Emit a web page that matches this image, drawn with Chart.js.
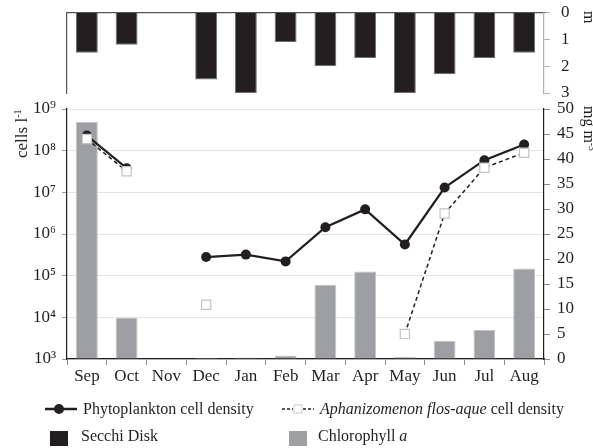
<!DOCTYPE html>
<html>
<head>
<meta charset="utf-8">
<script src="https://cdn.jsdelivr.net/npm/chart.js@4.4.1/dist/chart.umd.min.js"></script>
<style>
  html, body { margin: 0; padding: 0; background: #fff; }
  #wrap { position: relative; width: 593px; height: 448px; overflow: hidden;
          font-family: 'Liberation Serif', 'Times New Roman', serif; color: #231f20; }
  canvas { position: absolute; left: 0; top: 0; }
  .lbl { position: absolute; white-space: nowrap; font-size: 16px; line-height: 1; }
  .rot-up { transform-origin: 0 0; transform: rotate(-90deg); }
  .rot-down { transform-origin: 0 0; transform: rotate(90deg); }
  sup { font-size: 0.6em; vertical-align: 0.55em; line-height: 0; }
  .sym { position: absolute; }
</style>
</head>
<body>
<div id="wrap">
  <canvas id="main" width="593" height="448"></canvas>
  <canvas id="secchi" width="593" height="448"></canvas>

  <!-- axis titles -->
  <div class="lbl rot-up" style="left:13px; top:158px; font-size:17px;">cells l<sup>-1</sup></div>
  <div class="lbl rot-down" style="left:597px; top:106px; font-size:16px;">mg m<sup>-3</sup></div>
  <div class="lbl rot-down" style="left:597px; top:11px; font-size:16px;">m</div>

  <!-- legend -->
  <svg class="sym" style="left:44px; top:402px;" width="34" height="14">
    <line x1="1" y1="7" x2="33" y2="7" stroke="#231f20" stroke-width="2.5"/>
    <circle cx="15" cy="7" r="5" fill="#231f20"/>
  </svg>
  <div class="lbl" style="left:83px; top:401px;">Phytoplankton cell density</div>

  <svg class="sym" style="left:281px; top:402px;" width="34" height="14">
    <line x1="1" y1="7" x2="12" y2="7" stroke="#231f20" stroke-width="1.5" stroke-dasharray="3,2"/>
    <line x1="22" y1="7" x2="33" y2="7" stroke="#231f20" stroke-width="1.5" stroke-dasharray="3,2"/>
    <rect x="13" y="3" width="8" height="8" fill="#fff" stroke="#c9c9c9" stroke-width="1"/>
  </svg>
  <div class="lbl" style="left:320px; top:401px;"><i>Aphanizomenon flos-aque</i> cell density</div>

  <div class="sym" style="left:50px; top:431px; width:18px; height:15px; background:#231f20;"></div>
  <div class="lbl" style="left:81px; top:428px;">Secchi Disk</div>

  <div class="sym" style="left:289px; top:431px; width:18px; height:15px; background:#9d9fa2;"></div>
  <div class="lbl" style="left:318px; top:428px;">Chlorophyll <i>a</i></div>
</div>

<script>
// Monthly sampling, September to August
const months = ['Sep', 'Oct', 'Nov', 'Dec', 'Jan', 'Feb', 'Mar', 'Apr', 'May', 'Jun', 'Jul', 'Aug'];

// Secchi disk transparency (m)
const secchiDepth = [1.5, 1.2, null, 2.5, 3.0, 1.1, 2.0, 1.7, 3.0, 2.3, 1.7, 1.5];

// Chlorophyll a (mg m-3)
const chlorophyllA = [47.4, 8.2, null, 0.2, 0.3, 0.7, 14.8, 17.5, 0.4, 3.6, 5.8, 18.1];

// Cell densities (cells l-1)
const phytoplanktonDensity = [2.3e8, 3.8e7, null, 2.8e5, 3.2e5, 2.2e5, 1.45e6, 3.9e6, 5.6e5, 1.3e7, 5.9e7, 1.4e8];
const aphanizomenonDensity = [1.9e8, 3.2e7, null, 2.0e4, null, null, null, null, 4.0e3, 3.1e6, 3.9e7, 8.9e7];

// Tick values and labels
const densityTicks = [1e3, 1e4, 1e5, 1e6, 1e7, 1e8, 1e9];
const densityTickLabels = ['10³', '10⁴', '10⁵', '10⁶', '10⁷', '10⁸', '10⁹'];
const secchiTicks = [0, 1, 2, 3];
const chlorophyllTicks = [0, 5, 10, 15, 20, 25, 30, 35, 40, 45, 50];

const FONT = "'Liberation Serif', 'Times New Roman', serif";
const INK = '#231f20';

// ---------- Main panel: densities + chlorophyll ----------
new Chart(document.getElementById('main'), {
  data: {
    labels: months,
    datasets: [
      {
        type: 'line',
        label: 'Aphanizomenon flos-aque cell density',
        data: aphanizomenonDensity,
        yAxisID: 'y',
        order: 1,
        borderColor: INK,
        borderWidth: 1.5,
        borderDash: [4, 3],
        spanGaps: false,
        pointStyle: 'rect',
        pointRadius: 6.5,
        pointBackgroundColor: '#ffffff',
        pointBorderColor: '#c4c4c4',
        pointBorderWidth: 1.2,
        tension: 0
      },
      {
        type: 'line',
        label: 'Phytoplankton cell density',
        data: phytoplanktonDensity,
        yAxisID: 'y',
        order: 2,
        borderColor: INK,
        borderWidth: 2.2,
        spanGaps: false,
        pointStyle: 'circle',
        pointRadius: 5,
        pointBackgroundColor: INK,
        pointBorderColor: INK,
        pointBorderWidth: 0,
        tension: 0
      },
      {
        type: 'bar',
        label: 'Chlorophyll a',
        data: chlorophyllA,
        yAxisID: 'y1',
        order: 3,
        backgroundColor: '#9d9fa2',
        borderColor: '#c2c3c5',
        borderWidth: 1,
        barPercentage: 0.55,
        categoryPercentage: 1.0
      }
    ]
  },
  options: {
    responsive: false,
    animation: false,
    events: [],
    layout: { padding: { top: 109, bottom: 48, left: 0, right: 0 } },
    plugins: { legend: { display: false }, tooltip: { enabled: false } },
    scales: {
      x: {
        type: 'category',
        offset: true,
        grid: { offset: true, drawOnChartArea: false, tickLength: 6, color: '#8a8a8a', tickWidth: 1 },
        border: { display: true, color: INK, width: 1.2 },
        ticks: { font: { family: FONT, size: 17 }, color: INK, padding: 1, maxRotation: 0, autoSkip: false },
        afterFit: (s) => { s.height = 41; }
      },
      y: {
        type: 'logarithmic',
        position: 'left',
        min: densityTicks[0],
        max: densityTicks[densityTicks.length - 1],
        afterBuildTicks: (s) => { s.ticks = densityTicks.map(v => ({ value: v })); },
        ticks: {
          font: { family: FONT, size: 17 },
          color: INK,
          padding: 6,
          callback: (v) => densityTickLabels[densityTicks.indexOf(v)] ?? ''
        },
        grid: { color: '#e4e4e4', lineWidth: 1, tickLength: 5, tickColor: '#9a9a9a' },
        border: { display: true, color: INK, width: 1.2 },
        afterFit: (s) => { s.width = 67; }
      },
      y1: {
        type: 'linear',
        position: 'right',
        min: 0,
        max: 50,
        afterBuildTicks: (s) => { s.ticks = chlorophyllTicks.map(v => ({ value: v })); },
        ticks: { font: { family: FONT, size: 17 }, color: INK, padding: 7 },
        grid: { drawOnChartArea: false, tickLength: 6, color: '#8a8a8a' },
        border: { display: true, color: INK, width: 1.2 },
        afterFit: (s) => { s.width = 49; }
      }
    }
  }
});

// ---------- Top panel: Secchi depth (hanging bars) ----------
new Chart(document.getElementById('secchi'), {
  type: 'bar',
  data: {
    labels: months,
    datasets: [{
      label: 'Secchi Disk',
      data: secchiDepth,
      yAxisID: 'y',
      backgroundColor: INK,
      borderColor: '#6d6e71',
      borderWidth: 1,
      barPercentage: 0.55,
      categoryPercentage: 1.0
    }]
  },
  options: {
    responsive: false,
    animation: false,
    events: [],
    layout: { padding: { top: 12.5, bottom: 355, left: 67, right: 0 } },
    plugins: { legend: { display: false }, tooltip: { enabled: false } },
    scales: {
      x: {
        type: 'category',
        position: 'top',
        offset: true,
        ticks: { display: false },
        grid: { display: false, drawTicks: false },
        border: { display: true, color: '#555', width: 1.2 },
        afterFit: (s) => { s.height = 0; }
      },
      frame: {
        type: 'linear',
        position: 'left',
        min: 0,
        max: 3,
        ticks: { display: false },
        grid: { display: false, drawTicks: false },
        border: { display: true, color: '#555', width: 1.2 },
        afterFit: (s) => { s.width = 0; s.paddingTop = 0; s.paddingBottom = 0; }
      },
      y: {
        type: 'linear',
        position: 'right',
        reverse: true,
        min: 0,
        max: 3,
        afterBuildTicks: (s) => { s.ticks = secchiTicks.map(v => ({ value: v })); },
        ticks: { font: { family: FONT, size: 17 }, color: INK, padding: 11 },
        grid: { drawOnChartArea: false, tickLength: 6, color: '#b0b0b0' },
        border: { display: true, color: '#b0b0b0', width: 1.2 },
        afterFit: (s) => { s.width = 49; s.paddingTop = 0; s.paddingBottom = 0; }
      }
    }
  }
});
</script>
</body>
</html>
